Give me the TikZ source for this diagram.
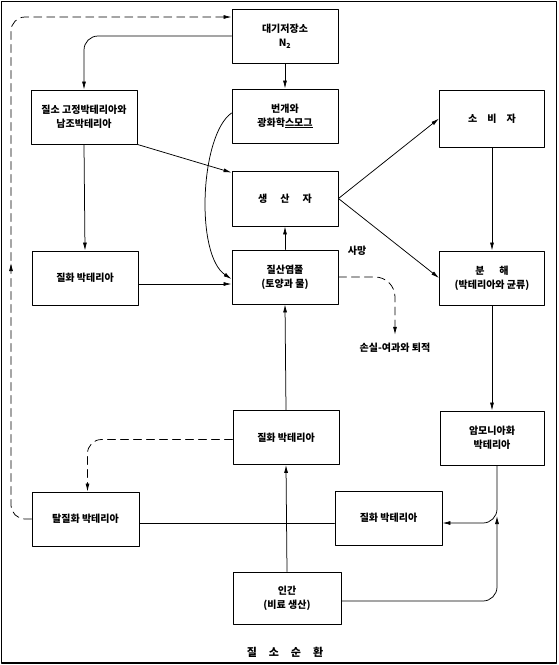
\documentclass[tikz,border=0pt]{standalone}
\usepackage{fontspec}
\setmainfont{Noto Sans CJK KR}
\usetikzlibrary{arrows.meta,decorations.markings}
\begin{document}
\begin{tikzpicture}[x=1pt,y=-1pt,line cap=round,line join=round,
  box/.style={draw,line width=0.9pt,minimum width=106pt,minimum height=54pt,align=center,inner sep=2pt,font=\fontsize{10}{14}\selectfont\bfseries},
  arr/.style={line width=0.75pt,-{Latex[length=8pt,width=4pt]}},
  dsh/.style={arr,dash pattern=on 8pt off 5pt},
  lbl/.style={font=\fontsize{10}{12}\selectfont\bfseries}]
\useasboundingbox (0,0) rectangle (558,665);
\draw[line width=1.2pt] (1.5,1.5) rectangle (556.5,663);
% boxes
\node[box] (atm) at (285,36) {대기저장소\\N$_\mathbf{2}$};
\node[box] (fix) at (84,117) {질소 고정박테리아와\\남조박테리아};
\node[box] (light) at (285,116) {번개와\\광화학\underline{스모그}};
\node[box,minimum height=55pt] (prod) at (285,198.5) {생\hspace{13pt}산\hspace{13pt}자};
\node[box] (pool) at (285,277) {질산염풀\\(토양과 물)};
\node[box,minimum width=105pt,minimum height=57pt] (cons) at (492,118.5) {소\hspace{10pt}비\hspace{10pt}자};
\node[box,minimum width=105pt] (decomp) at (492,278) {분\hspace{15pt}해\\(박테리아와 균류)};
\node[box] (nitL) at (85,278) {질화 박테리아};
\node[box] (nitM) at (286,437.5) {질화 박테리아};
\node[box,minimum width=104pt] (ammo) at (492,438) {암모니아화\\박테리아};
\node[box,minimum width=107pt] (denit) at (85.5,519) {탈질화 박테리아};
\node[box,minimum width=107pt] (nitR) at (388.5,518) {질화 박테리아};
\node[box,minimum width=108pt,minimum height=52pt] (human) at (287,598) {인간\\(비료 생산)};
% labels
\node[lbl] (death) at (357,251) {사망};
\node[lbl] (loss) at (395,348) {손실-여과와 퇴적};
\node[font=\fontsize{11}{13}\selectfont\bfseries] (title) at (285,652) {질\hspace{12pt}소\hspace{12pt}순\hspace{12pt}환};
\coordinate (nw) at (11,17);
\coordinate (gap) at (497,516);
% connectors
\draw[dsh,rounded corners=14pt,postaction={decorate},
  decoration={markings,mark=at position 0.37 with {\arrow{Latex[length=8pt,width=4pt]}}}]
  (denit.west) -| (nw) -- (nw -| atm.west);
\draw[arr,rounded corners=14pt] (atm.west) -| (fix.north);
\draw[arr] (atm.south) -- (light.north);
\draw[arr] (fix.south east) -- ([yshift=-2pt]prod.north west);
\draw[arr] (fix.south) -- (nitL.north);
\draw[arr] ([yshift=-6pt]nitL.east) -- ([yshift=-7pt]pool.west);
\draw[arr] ([yshift=3pt]light.west) .. controls (200,135) and (195,255) .. ([yshift=-2pt]pool.west);
\draw[arr] (pool.north) -- (prod.south);
\draw[arr] (prod.east) -- (cons.west);
\draw[arr] (prod.east) -- (decomp.west);
\draw[arr] (cons.south) -- (decomp.north);
\draw[arr] (decomp.south) -- (ammo.north);
\draw[arr,rounded corners=14pt] ([xshift=5pt]ammo.south) |- ([yshift=-5pt]nitR.east);
\draw[arr,rounded corners=14pt] ([yshift=-3pt]human.east) -| (gap);
\draw[arr] (human.north) -- (nitM.south);
\draw[arr] (nitM.north) -- (pool.south);
\draw[line width=0.75pt] ([yshift=-4pt]denit.east) -- ([yshift=-5pt]nitR.west);
\draw[dsh,rounded corners=14pt] ([yshift=-2pt]nitM.west) -| ([xshift=2pt]denit.north);
\draw[dsh,rounded corners=20pt] (pool.east) -| ([yshift=5pt]loss.north);
\end{tikzpicture}
\end{document}
